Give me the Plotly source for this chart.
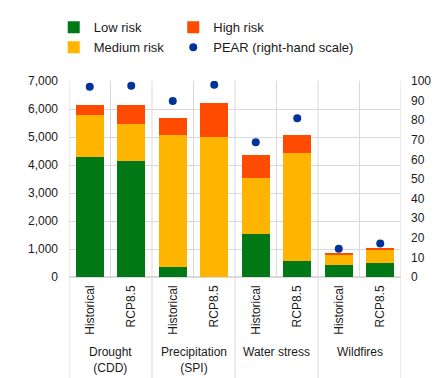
import plotly.graph_objects as go

groups = ["Drought<br>(CDD)", "Precipitation<br>(SPI)", "Water stress", "Wildfires"]
scenarios = ["Historical", "RCP8.5"]
low_risk = [4280, 4150, 350, 0, 1530, 560, 440, 515]
medium_risk = [1516, 1324, 4731, 4999, 2000, 3860, 350, 455]
high_risk = [358, 680, 596, 1214, 820, 650, 85, 70]
pear = [97.1, 97.6, 89.8, 98.1, 68.8, 81.0, 14.4, 17.1]

n_sc = len(scenarios)
labels = [s for g in groups for s in scenarios]
xpos = list(range(len(labels)))

GREEN = "#007816"
YELLOW = "#FFB400"
ORANGE = "#FF4B00"
BLUE = "#003299"
GRID = "#d9d9d9"
TXT = "#1a1a1a"
FONT = "Liberation Sans, Arial, sans-serif"

fig = go.Figure()
fig.add_trace(go.Bar(x=xpos, y=low_risk, name="Low risk", marker=dict(color=GREEN, line=dict(width=0)),
                     legend="legend"))
fig.add_trace(go.Bar(x=xpos, y=medium_risk, name="Medium risk", marker=dict(color=YELLOW, line=dict(width=0)),
                     legend="legend"))
fig.add_trace(go.Bar(x=xpos, y=high_risk, name="High risk", marker=dict(color=ORANGE, line=dict(width=0)),
                     legend="legend2"))
fig.add_trace(go.Scatter(x=xpos, y=pear, name="PEAR (right-hand scale)", mode="markers",
                         marker=dict(color=BLUE, size=8, symbol="circle"), yaxis="y2",
                         legend="legend2"))

# vertical separators between bars (inside plot) and between groups (extending below)
shapes = []
for i in range(len(labels) + 1):
    xb = i - 0.5
    y0 = -0.52 if i % n_sc == 0 else 0
    shapes.append(dict(type="line", xref="x", yref="paper", x0=xb, x1=xb, y0=y0, y1=1,
                       line=dict(color=GRID, width=1), layer="below"))

annotations = []
for gi, g in enumerate(groups):
    annotations.append(dict(x=gi * n_sc + (n_sc - 1) / 2, xref="x", y=-0.335, yref="paper",
                            text=g, showarrow=False, yanchor="top", xanchor="center",
                            font=dict(size=12, color=TXT, family=FONT)))

legend_common = dict(yanchor="top", xanchor="left", orientation="v",
                     font=dict(size=13, color=TXT, family=FONT), bgcolor="rgba(0,0,0,0)",
                     tracegroupgap=0, itemwidth=30, traceorder="normal")

fig.update_layout(
    width=438, height=378,
    margin=dict(l=69, r=37, t=81, b=101, pad=0, autoexpand=False),
    paper_bgcolor="white", plot_bgcolor="white",
    barmode="stack", bargap=0.33,
    font=dict(family=FONT, size=12, color=TXT),
    shapes=shapes, annotations=annotations,
    xaxis=dict(range=[-0.5, len(labels) - 0.5], tickvals=xpos, ticktext=labels, tickangle=-90,
               showgrid=False, zeroline=False, showline=False, ticks="",
               ticklabelstandoff=5, tickfont=dict(size=12, color=TXT)),
    yaxis=dict(range=[0, 7000], dtick=1000, tickformat=",", showgrid=True, gridcolor=GRID,
               gridwidth=1, zeroline=True, zerolinecolor=GRID, showline=False, ticks="",
               ticklabelstandoff=10, tickfont=dict(size=12, color=TXT)),
    yaxis2=dict(range=[0, 100], dtick=10, overlaying="y", side="right", showgrid=False,
                zeroline=False, showline=False, ticks="", ticklabelstandoff=9,
                tickfont=dict(size=12, color=TXT)),
    legend=dict(x=-0.046, y=1.35, **legend_common),
    legend2=dict(x=0.314, y=1.35, **legend_common),
)

fig.write_html("out.html", config={"displayModeBar": False},
               post_script="document.body.style.margin='0';document.body.style.padding='0';")
